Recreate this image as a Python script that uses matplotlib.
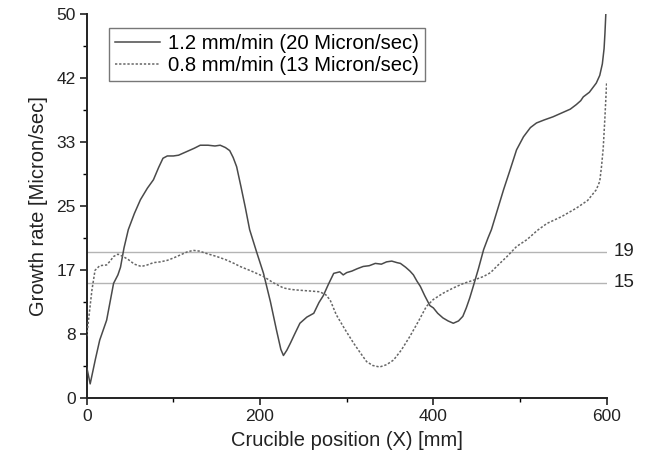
import matplotlib
matplotlib.use("Agg")
import matplotlib.pyplot as plt
from matplotlib.ticker import FixedLocator

plt.rcParams['font.family'] = ['Liberation Sans', 'DejaVu Sans']

# 1.2 mm/min (20 Micron/sec)
x_fast = [0, 4, 10, 15, 23, 27, 31, 36, 39, 43, 48, 55, 62, 70, 77, 83, 88, 93, 100, 106,
          112, 118, 124, 131, 140, 148, 154, 160, 165, 169, 173, 178, 183, 188, 196, 204,
          212, 219, 224, 227, 231, 235, 240, 246, 254, 262, 268, 273, 279, 285, 292, 296,
          300, 306, 312, 319, 326, 333, 340, 346, 352, 358, 362, 368, 373, 377, 381, 385,
          390, 396, 400, 405, 411, 417, 423, 429, 434, 438, 442, 446, 452, 458, 463, 467,
          474, 481, 488, 496, 504, 512, 519, 528, 538, 548, 558, 565, 570, 573, 580, 588,
          592, 595, 597, 598, 599]
y_fast = [4.0, 1.8, 5.0, 7.5, 10.1, 12.5, 14.9, 16.0, 17.0, 19.5, 21.9, 24.0, 25.8, 27.3,
          28.4, 30.0, 31.2, 31.5, 31.5, 31.6, 31.9, 32.2, 32.5, 32.9, 32.9, 32.8, 32.9, 32.6,
          32.2, 31.3, 30.1, 27.5, 24.8, 21.9, 19.0, 16.2, 12.5, 8.8, 6.3, 5.5, 6.2, 7.1, 8.3,
          9.7, 10.5, 11.0, 12.4, 13.3, 14.8, 16.2, 16.4, 16.0, 16.3, 16.5, 16.8, 17.1, 17.2,
          17.5, 17.4, 17.7, 17.8, 17.6, 17.5, 17.0, 16.5, 16.0, 15.2, 14.5, 13.3, 12.0, 11.7,
          11.0, 10.4, 10.0, 9.7, 10.0, 10.6, 11.7, 13.0, 14.5, 16.8, 19.3, 20.8, 21.9, 24.5,
          27.1, 29.5, 32.3, 34.0, 35.2, 35.8, 36.2, 36.6, 37.1, 37.6, 38.2, 38.7, 39.2, 39.8,
          41.0, 42.0, 43.5, 45.5, 47.5, 50.0]

# 0.8 mm/min (13 Micron/sec)
x_slow = [0, 3, 6, 9.6, 15, 23, 27, 31, 36, 42, 48, 55, 63, 70, 77, 85, 93, 100, 108, 116,
          123, 130, 138, 150, 160, 170, 177, 190, 204, 215, 227, 236, 246, 258, 269, 276,
          281, 288, 298, 308, 316, 323, 330, 338, 346, 354, 363, 373, 383, 392, 400, 411,
          423, 435, 446, 458, 466, 473, 485, 496, 508, 520, 531, 548, 565, 578, 588, 592,
          594, 596, 598, 600]
y_slow = [8.0, 11.0, 14.0, 16.6, 17.2, 17.3, 17.8, 18.4, 18.7, 18.4, 18.0, 17.4, 17.1, 17.3,
          17.6, 17.7, 17.9, 18.2, 18.6, 19.0, 19.2, 19.1, 18.8, 18.4, 18.0, 17.5, 17.1, 16.5,
          15.8, 15.0, 14.3, 14.1, 14.0, 13.9, 13.8, 13.4, 12.7, 10.8, 8.9, 7.1, 5.8, 4.7, 4.2,
          4.0, 4.3, 4.9, 6.2, 8.0, 10.0, 11.9, 12.8, 13.6, 14.3, 14.9, 15.3, 15.8, 16.3, 17.1,
          18.4, 19.7, 20.6, 21.8, 22.7, 23.6, 24.7, 25.7, 27.1, 28.2, 30.1, 32.5, 36.6, 41.2]

ref_levels = [19, 15]
ref_labels = ["19", "15"]
y_tick_vals = [0, 50/6, 100/6, 25, 200/6, 250/6, 50]
y_tick_labels = ["0", "8", "17", "25", "33", "42", "50"]
x_tick_vals = [0, 200, 400, 600]
x_tick_labels = ["0", "200", "400", "600"]

fig = plt.figure(figsize=(6.49, 4.62), dpi=100)
ax = fig.add_axes([0.1336, 0.1392, 0.8012, 0.8305])

line_c = '#4a4a4a'
for lvl, lab in zip(ref_levels, ref_labels):
    ax.axhline(lvl, color='#b4b4b4', lw=1.0, zorder=1)
    ax.text(1.013, lvl, lab, transform=ax.get_yaxis_transform(), va='center', ha='left',
            fontsize=13.5, color='#222222')

ax.plot(x_fast, y_fast, color=line_c, lw=1.1, label='1.2 mm/min (20 Micron/sec)', zorder=3)
ax.plot(x_slow, y_slow, color='#666666', lw=1.1, ls=(0, (1.5, 1.2)),
        label='0.8 mm/min (13 Micron/sec)', zorder=3)

ax.set_xlim(0, 600)
ax.set_ylim(0, 50)
ax.set_xticks(x_tick_vals)
ax.set_xticklabels(x_tick_labels)
ax.set_yticks(y_tick_vals)
ax.set_yticklabels(y_tick_labels)
ax.xaxis.set_minor_locator(FixedLocator([100, 300, 500]))
ax.yaxis.set_minor_locator(FixedLocator([50/12 * k for k in range(1, 12, 2)]))
ax.tick_params(which='major', direction='out', length=5, width=1.2, labelsize=12.5,
               colors='#222222', pad=3)
ax.tick_params(which='minor', direction='out', length=3, width=1.0)

for s in ['top', 'right']:
    ax.spines[s].set_visible(False)
for s in ['left', 'bottom']:
    ax.spines[s].set_linewidth(1.4)
    ax.spines[s].set_color('#222222')

ax.set_xlabel('Crucible position (X) [mm]', fontsize=14.5, color='#222222', labelpad=5)
ax.set_ylabel('Growth rate [Micron/sec]', fontsize=14.5, color='#222222', labelpad=6)

leg = ax.legend(loc='upper left', bbox_to_anchor=(0.043, 0.9635), fontsize=14.6,
                frameon=True, fancybox=False, edgecolor='#555555', handlelength=2.2,
                borderpad=0.3, labelspacing=0.15, handletextpad=0.4, borderaxespad=0)
leg.get_frame().set_linewidth(1.0)

fig.savefig('out.png', dpi=100)
